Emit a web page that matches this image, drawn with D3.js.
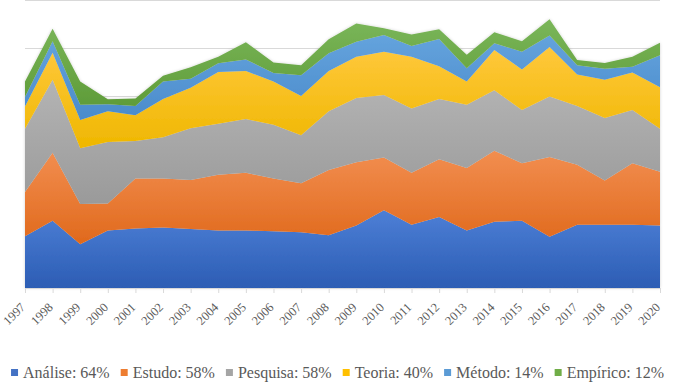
<!DOCTYPE html>
<html>
<head>
<meta charset="utf-8">
<script src="https://cdn.jsdelivr.net/npm/d3@7"></script>
<style>
  html, body { margin: 0; padding: 0; background: #fff; }
  svg { display: block; }
  .ax, .lg { font-family: "Liberation Serif", "Times New Roman", serif; }
</style>
</head>
<body>
<svg id="chart" width="675" height="382"></svg>
<script>
const years = ["1997","1998","1999","2000","2001","2002","2003","2004","2005","2006","2007","2008","2009","2010","2011","2012","2013","2014","2015","2016","2017","2018","2019","2020"];
const analise  = [54, 70, 45.5, 60, 62, 63, 61.5, 60, 60, 59, 58, 55, 65, 81, 66, 74, 60, 69, 70, 53.5, 66, 66, 66, 65];
const estudo   = [46, 71, 42, 28, 52, 51, 51, 58, 60, 55, 51, 68, 66, 55, 54, 60, 65, 74, 60, 83, 62.5, 46, 64, 56];
const pesquisa = [66, 76, 58, 64, 39, 43, 54, 53, 56, 56, 50, 61, 67, 65, 67, 63, 66, 63, 55.5, 63, 61, 65, 55.5, 45];
const teoria   = [23, 28, 29.5, 32, 27, 40, 42, 54, 50, 45, 41, 42, 43, 45, 54, 34, 24, 42, 42, 51.5, 33, 40, 39, 43];
const metodo   = [10, 12, 16, 7.5, 9.5, 18, 9.5, 9, 12, 9, 21.5, 18.5, 15.5, 17.5, 11, 28.5, 14, 7, 18.5, 12, 9.5, 11.5, 6, 33.5];
const empirico = [16, 13, 24, 5, 8, 6, 12, 7, 18, 11, 10.5, 14.5, 19, 7, 12, 10, 14, 11.5, 11, 17, 5.5, 6, 10.5, 13];
const seriesNames = ["Análise: 64%", "Estudo: 58%", "Pesquisa: 58%", "Teoria: 40%", "Método: 14%", "Empírico: 12%"];
const yTicks = [0, 50, 100, 150, 200, 250, 300];

const seriesKeys = ["analise","estudo","pesquisa","teoria","metodo","empirico"];
const seriesVals = [analise, estudo, pesquisa, teoria, metodo, empirico];
const colorsTop = ["#4d7fd6", "#f28e50", "#b4b4b4", "#ffc83c", "#64a3dd", "#7ab659"];
const colorsBot = ["#2c5db4", "#e0691c", "#9a9a9a", "#efb700", "#4a8bcb", "#5f9c39"];
const legendColors = ["#4472c4", "#ed7d31", "#a5a5a5", "#ffc000", "#5b9bd5", "#70ad47"];

const table = years.map((yr, i) => {
  const row = { year: yr };
  seriesKeys.forEach((k, j) => row[k] = seriesVals[j][i]);
  return row;
});

const svg = d3.select("#chart");
const W = 675;

const x = d3.scalePoint().domain(years).range([25, 660]);
const y = d3.scaleLinear().domain([0, 300]).range([288, 0]);

const defs = svg.append("defs");
seriesKeys.forEach((k, j) => {
  const g = defs.append("linearGradient").attr("id", "grad-" + k)
    .attr("x1", 0).attr("y1", 0).attr("x2", 0).attr("y2", 1);
  g.append("stop").attr("offset", "0%").attr("stop-color", colorsTop[j]);
  g.append("stop").attr("offset", "100%").attr("stop-color", colorsBot[j]);
});
const f = defs.append("filter").attr("id", "glow").attr("x", "-5%").attr("y", "-10%").attr("width", "110%").attr("height", "120%");
f.append("feDropShadow").attr("dx", 0).attr("dy", 0).attr("stdDeviation", 1.5)
  .attr("flood-color", "#000").attr("flood-opacity", 0.18);

svg.append("g").selectAll("line").data(yTicks).join("line")
  .attr("x1", 25).attr("x2", 660)
  .attr("y1", d => Math.round(y(d)) + 0.5).attr("y2", d => Math.round(y(d)) + 0.5)
  .attr("stroke", "#d9d9d9").attr("stroke-width", 1);

const layers = d3.stack().keys(seriesKeys)(table);

const area = d3.area()
  .x(d => x(d.data.year))
  .y0(d => y(d[0]))
  .y1(d => y(d[1]));

svg.append("g").attr("filter", "url(#glow)")
  .selectAll("path").data(layers).join("path")
  .attr("d", area)
  .attr("fill", d => "url(#grad-" + d.key + ")");

const axisG = svg.append("g").attr("transform", "translate(0,288)");
axisG.append("line").attr("x1", 25).attr("x2", 660).attr("y1", 0.5).attr("y2", 0.5)
  .attr("stroke", "#d9d9d9");
axisG.selectAll("line.tick").data(years).join("line").attr("class", "tick")
  .attr("x1", d => x(d) + 0.5).attr("x2", d => x(d) + 0.5)
  .attr("y1", 0).attr("y2", 5).attr("stroke", "#d9d9d9");
axisG.selectAll("text").data(years).join("text")
  .attr("class", "ax")
  .attr("transform", d => `translate(${x(d) + 1},20) rotate(-45)`)
  .attr("text-anchor", "end")
  .attr("font-size", 12.5)
  .attr("fill", "#595959")
  .text(d => d);

const legend = svg.append("g");
const items = legend.selectAll("g").data(seriesNames).join("g");
items.append("rect").attr("width", 7).attr("height", 7).attr("y", -9)
  .attr("fill", (d, i) => legendColors[i]);
items.append("text").attr("class", "lg").attr("x", 12).attr("y", 0)
  .attr("font-size", 16)
  .attr("fill", "#595959")
  .text(d => d);
let cx = 0;
const pos = [];
items.each(function () {
  const w = 12 + this.querySelector("text").getComputedTextLength();
  pos.push(cx);
  cx += w + 11;
});
const total = cx - 11;
const startX = (W - total) / 2;
items.attr("transform", (d, i) => `translate(${startX + pos[i]},378)`);
</script>
</body>
</html>
